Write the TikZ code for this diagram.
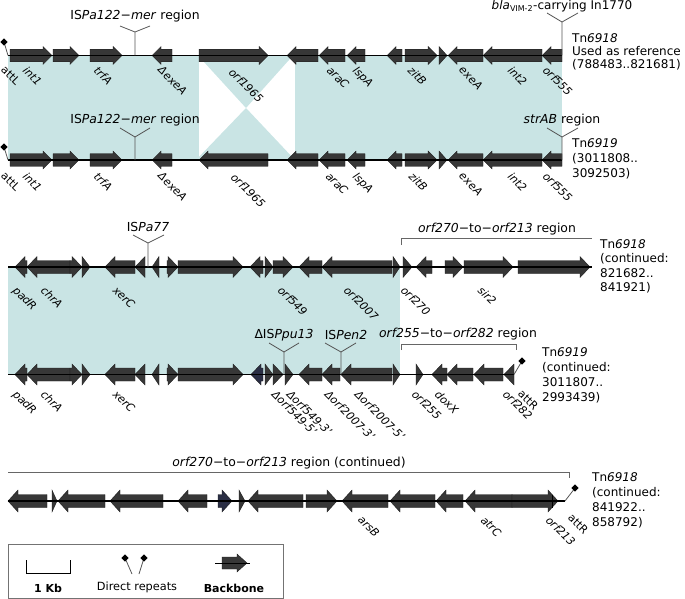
\documentclass[tikz,border=0pt]{standalone}
\usepackage{fontspec}
\setmainfont{DejaVu Sans}
\definecolor{shadec}{RGB}{201,228,228}
\definecolor{genec}{RGB}{55,55,55}
\definecolor{genenavy}{RGB}{42,46,68}
\definecolor{markgrey}{RGB}{85,85,85}
\def\HH{9}\def\BH{6.3}\def\HL{9}
\newcommand\geneR[4][genec]{%
 \pgfmathsetmacro\gHs{max(#2,#3-\HL)}%
 \filldraw[fill=#1,draw=black!90,line width=0.35] (#2,#4-\BH) -- (\gHs,#4-\BH) -- (\gHs,#4-\HH) -- (#3,#4) -- (\gHs,#4+\HH) -- (\gHs,#4+\BH) -- (#2,#4+\BH) -- cycle;}
\newcommand\geneL[4][genec]{%
 \pgfmathsetmacro\gHs{min(#3,#2+\HL)}%
 \filldraw[fill=#1,draw=black!90,line width=0.35] (#3,#4-\BH) -- (\gHs,#4-\BH) -- (\gHs,#4-\HH) -- (#2,#4) -- (\gHs,#4+\HH) -- (\gHs,#4+\BH) -- (#3,#4+\BH) -- cycle;}
\newcommand\dmd[2]{\fill[black] (#1,#2-3.6) -- (#1+3.6,#2) -- (#1,#2+3.6) -- (#1-3.6,#2) -- cycle;}
\begin{document}
\begin{tikzpicture}[x=1pt,y=-1pt,
  glab/.style={rotate=-45,anchor=north west,inner sep=0pt,font=\fontsize{11}{13}\selectfont\itshape},
  alab/.style={rotate=-45,anchor=north west,inner sep=0pt,font=\fontsize{11}{13}\selectfont},
  rlab/.style={anchor=base,inner sep=0pt,font=\fontsize{12.4}{14}\selectfont},
  tnlab/.style={anchor=base west,inner sep=0pt,font=\fontsize{12}{14}\selectfont},
  leglab/.style={anchor=base,inner sep=0pt,font=\fontsize{11.3}{13}\selectfont},
  insline/.style={draw=markgrey,line width=0.8},
  bbline/.style={draw=black,line width=1.2},
  brk/.style={draw=black!60,line width=0.8}]
\useasboundingbox (0,0) rectangle (685,599);

% ---------- shading ----------
\fill[shadec] (8,55.5) rectangle (199,160);
\fill[shadec] (198,55.5) -- (293,55.5) -- (246,108) -- cycle;
\fill[shadec] (196,160) -- (295,160) -- (246,108) -- cycle;
\fill[shadec] (295,55.5) rectangle (562,160);
\fill[shadec] (8,267) rectangle (400,374.5);

% ---------- row 1 ----------
\geneR{10}{52}{55.5}
\geneR{53}{79}{55.5}
\geneR{90}{122}{55.5}
\geneL{152}{172}{55.5}
\geneR{199}{268}{55.5}
\geneL{287}{318}{55.5}
\geneL{319}{345}{55.5}
\geneL{347}{365}{55.5}
\geneL{387}{402}{55.5}
\geneR{405}{437}{55.5}
\geneR{439}{447}{55.5}
\geneL{448}{483}{55.5}
\geneL{483}{542}{55.5}
\geneL{542}{562}{55.5}
\draw[bbline] (8,55.5) -- (562,55.5);
\draw[insline] (4,42) -- (8,55.5);
\dmd{4}{42}

% ---------- row 2 ----------
\geneR{10}{52}{160}
\geneR{53}{79}{160}
\geneR{90}{122}{160}
\geneL{152}{172}{160}
\geneL{199}{268}{160}
\geneL{287}{318}{160}
\geneL{319}{345}{160}
\geneL{347}{365}{160}
\geneL{387}{402}{160}
\geneR{405}{437}{160}
\geneR{439}{447}{160}
\geneL{448}{483}{160}
\geneL{483}{542}{160}
\geneL{542}{562}{160}
\draw[bbline] (8,160) -- (562,160);
\draw[insline] (4,147) -- (8,160);
\dmd{4}{147}

% ---------- row 3 ----------
\def\HH{10.5}\def\BH{6.5}\def\HL{10}
\geneL{15}{27}{267}
\geneL{27}{70}{267}
\geneR{70}{82}{267}
\geneR{82}{90}{267}
\geneL{105}{135}{267}
\geneL{135}{145}{267}
\geneL{152}{159}{267}
\geneR{167}{178}{267}
\geneR{178}{243}{267}
\geneL{250}{263}{267}
\geneR{265}{273}{267}
\geneR{273}{293}{267}
\geneL{299}{322}{267}
\geneL{322}{392}{267}
\geneR{393}{400}{267}
\geneR{403}{412}{267}
\geneL{416}{432}{267}
\geneR{445}{463}{267}
\geneR{464}{513}{267}
\geneR{518}{590}{267}
\draw[bbline] (8,267) -- (592,267);

% ---------- row 4 ----------
\geneL{15}{27}{374.5}
\geneL{27}{70}{374.5}
\geneR{70}{82}{374.5}
\geneR{82}{90}{374.5}
\geneL{105}{135}{374.5}
\geneL{135}{145}{374.5}
\geneL{152}{159}{374.5}
\geneR{167}{178}{374.5}
\geneR{178}{243}{374.5}
\geneL[genenavy]{251}{263}{374.5}
\geneR{265}{273}{374.5}
\geneR{273}{283}{374.5}
\geneR{285}{293}{374.5}
\geneL{299}{322}{374.5}
\geneL{322}{340}{374.5}
\geneL{341}{392}{374.5}
\geneR{393}{400}{374.5}
\geneR{416}{423}{374.5}
\geneL{432}{447}{374.5}
\geneL{447}{473}{374.5}
\geneL{474}{503}{374.5}
\geneL{504}{514}{374.5}
\draw[bbline] (8,374.5) -- (514,374.5);
\draw[insline] (514,374.5) -- (522,361);
\dmd{522}{361}

% ---------- row 5 ----------
\def\HH{11}\def\BH{6.5}\def\HL{10}
\geneL{8}{47}{501}
\geneR{52}{57}{501}
\geneL{58}{105}{501}
\geneL{110}{163}{501}
\geneL{178}{207}{501}
\geneR[genenavy]{218}{232}{501}
\geneR{239}{245}{501}
\geneL{248}{303}{501}
\geneR{306}{337}{501}
\geneL{342}{388}{501}
\geneL{390}{435}{501}
\geneL{436}{463}{501}
\geneL{465}{512}{501}
\geneR{512}{558}{501}
\draw[black,line width=0.5] (552,494.5) -- (552,507.5);
\draw[bbline] (8,501) -- (565,501);
\draw[insline] (565,501) -- (575,488);
\dmd{575}{488}

% ---------- insertion markers ----------
\draw[insline] (135,55.5) -- (135,32) (120,26) -- (135,32) -- (150,26);
\node[rlab] (isA) at (135,20) {IS\textit{Pa122}−\textit{mer} region};
\draw[insline] (562,55.5) -- (562,22) (547,13) -- (562,22) -- (578,13);
\node[rlab,font=\fontsize{12}{14}\selectfont] (bla) at (562,10) {\textit{bla}\textsubscript{VIM-2}-carrying In1770};
\draw[insline] (135,160) -- (135,137) (120,128) -- (135,137) -- (150,128);
\node[rlab] (isB) at (135,124) {IS\textit{Pa122}−\textit{mer} region};
\draw[insline] (562,160) -- (562,137) (547,128) -- (562,137) -- (578,128);
\node[rlab] (str) at (562,124) {\textit{strAB} region};
\draw[insline] (148,267) -- (148,243) (133,235) -- (148,243) -- (164,235);
\node[rlab] (is77) at (148,231) {IS\textit{Pa77}};
\draw[insline] (284,374.5) -- (284,352) (269,343) -- (284,352) -- (299,343);
\node[rlab] (ispu) at (284,338) {ΔIS\textit{Ppu13}};
\draw[insline] (341,374.5) -- (341,352) (325,343) -- (341,352) -- (356,343);
\node[rlab] (isen) at (346,339) {IS\textit{Pen2}};

% ---------- brackets ----------
\draw[brk] (401,245) -- (401,238) -- (592,238);
\node[rlab] (brA) at (497,232) {\textit{orf270}−to−\textit{orf213} region};
\draw[brk] (401,350) -- (401,344) -- (516,344) -- (516,350);
\node[rlab] (brB) at (458,337) {\textit{orf255}−to−\textit{orf282} region};
\draw[brk] (8,472) -- (569,472) -- (569,478);
\node[rlab] (brC) at (289,466) {\textit{orf270}−to−\textit{orf213} region (continued)};

% ---------- Tn labels ----------
\node[tnlab] (t1a) at (572,43) {Tn\textit{6918}};
\node[tnlab] (t1b) at (572,56) {Used as reference};
\node[tnlab] (t1c) at (572,68.5) {(788483..821681)};
\node[tnlab] (t2a) at (572,147) {Tn\textit{6919}};
\node[tnlab] (t2b) at (572,162) {(3011808..};
\node[tnlab] (t2c) at (572,177) {3092503)};
\node[tnlab] (t3a) at (600,248) {Tn\textit{6918}};
\node[tnlab] (t3b) at (600,262.5) {(continued:};
\node[tnlab] (t3c) at (600,277) {821682..};
\node[tnlab] (t3d) at (600,291.5) {841921)};
\node[tnlab] (t4a) at (542,356) {Tn\textit{6919}};
\node[tnlab] (t4b) at (542,371) {(continued:};
\node[tnlab] (t4c) at (542,386) {3011807..};
\node[tnlab] (t4d) at (542,401) {2993439)};
\node[tnlab] (t5a) at (592,481) {Tn\textit{6918}};
\node[tnlab] (t5b) at (592,496) {(continued:};
\node[tnlab] (t5c) at (592,511) {841922..};
\node[tnlab] (t5d) at (592,526) {858792)};

% ---------- gene labels row 1 ----------
\node[alab] (l1a) at (6,65) {attL};
\node[glab] (l1b) at (28,65) {int1};
\node[glab] (l1c) at (99,65) {trfA};
\node[glab] (l1d) at (163,65) {ΔexeA};
\node[glab] (l1e) at (234,67) {orf1965};
\node[glab] (l1f) at (332,65) {araC};
\node[glab] (l1g) at (358,65) {lspA};
\node[glab] (l1h) at (413,65) {zitB};
\node[glab] (l1i) at (464,65) {exeA};
\node[glab] (l1j) at (513,65) {int2};
\node[glab] (l1k) at (548,65) {orf555};
% row 2
\node[alab] (l2a) at (6,171) {attL};
\node[glab] (l2b) at (28,171) {int1};
\node[glab] (l2c) at (99,171) {trfA};
\node[glab] (l2d) at (163,171) {ΔexeA};
\node[glab] (l2e) at (236,172) {orf1965};
\node[glab] (l2f) at (331,171) {araC};
\node[glab] (l2g) at (358,171) {lspA};
\node[glab] (l2h) at (414,171) {zitB};
\node[glab] (l2i) at (464,171) {exeA};
\node[glab] (l2j) at (513,171) {int2};
\node[glab] (l2k) at (548,171) {orf555};
% row 3
\node[glab] (l3a) at (18,285) {padR};
\node[glab] (l3b) at (46,285) {chrA};
\node[glab] (l3c) at (118,285) {xerC};
\node[glab] (l3d) at (283,285) {orf549};
\node[glab] (l3e) at (349,285) {orf2007};
\node[glab] (l3f) at (406,285) {orf270};
\node[glab] (l3g) at (483,285) {sir2};
% row 4
\node[glab] (l4a) at (18,389) {padR};
\node[glab] (l4b) at (46,389) {chrA};
\node[glab] (l4c) at (118,389) {xerC};
\node[glab] (l4d) at (277,389) {Δorf549-5'};
\node[glab] (l4e) at (292,389) {Δorf549-3'};
\node[glab] (l4f) at (330,389) {Δorf2007-3'};
\node[glab] (l4g) at (360,389) {Δorf2007-5'};
\node[glab] (l4h) at (417,389) {orf255};
\node[glab] (l4i) at (440,389) {doxX};
\node[glab] (l4j) at (508,389) {orf282};
\node[alab] (l4k) at (523,389) {attR};
% row 5
\node[glab] (l5a) at (363,515) {arsB};
\node[glab] (l5b) at (486,515) {atrC};
\node[glab] (l5c) at (551,515) {orf213};
\node[alab] (l5d) at (573,513) {attR};

% ---------- legend ----------
\draw[draw=black!55,line width=0.8] (8,544) rectangle (283,598);
\draw[line width=0.9] (26,560) -- (26,573) -- (70,573) -- (70,560);
\node[leglab,font=\fontsize{11}{12}\selectfont\bfseries] (kb) at (48,592) {1 Kb};
\draw[insline] (125,558) -- (132,574);
\draw[insline] (144,558) -- (139,574);
\dmd{125}{558}
\dmd{144}{558}
\node[leglab] (dr) at (137,590) {Direct repeats};
\def\HH{9}\def\BH{6}\def\HL{10}
\geneR{222}{247}{563}
\draw[line width=1] (215,563) -- (250,563);
\node[leglab,font=\fontsize{11}{12}\selectfont\bfseries] (bb) at (234,592) {Backbone};
\end{tikzpicture}
\end{document}
